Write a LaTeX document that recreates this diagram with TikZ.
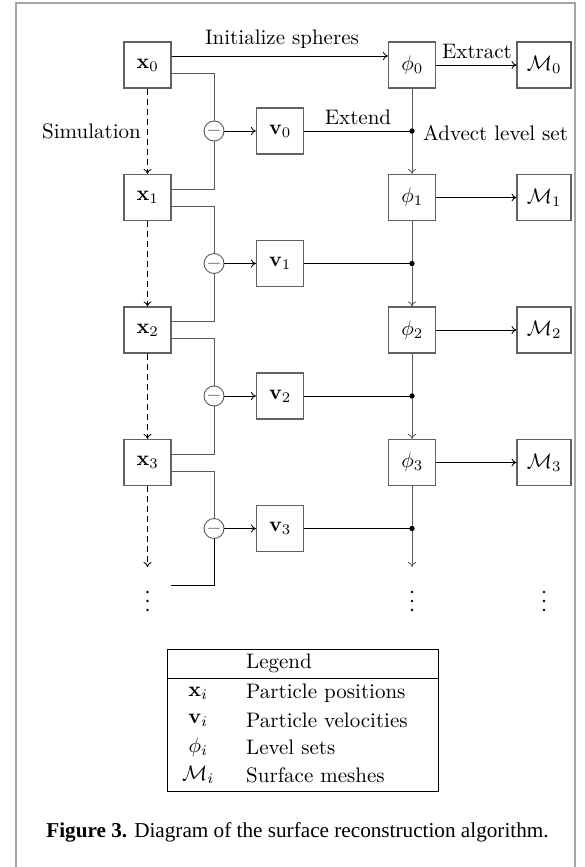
\RequirePackage{fix-cm}
\documentclass[tikz,border=0pt]{standalone}
\usepackage{fontspec}
\setmainfont{lmroman10-regular.otf}[BoldFont=lmroman10-bold.otf, ItalicFont=lmroman10-italic.otf, BoldItalicFont=lmroman10-bolditalic.otf]
\newfontfamily\capfont{Liberation Serif}
\DeclareFontShape{OT1}{cmr}{m}{n}{<-16>cmr7 <16->cmr10}{}
\DeclareFontShape{OT1}{cmr}{bx}{n}{<->cmbx10}{}
\DeclareFontShape{OML}{cmm}{m}{it}{<-16>cmmi7 <16->cmmi10}{\skewchar\font127}
\DeclareFontShape{OMS}{cmsy}{m}{n}{<-16>cmsy7 <16->cmsy10}{\skewchar\font48}
\usetikzlibrary{arrows.meta}
\begin{document}
\begin{tikzpicture}[x=1pt,y=-1pt,
  every node/.style={font=\fontsize{21}{25}\selectfont},
  box/.style={draw=black!62, line width=1.1pt, minimum width=47pt, minimum height=46pt, inner sep=0pt},
  mbox/.style={box, minimum width=54pt},
  subnode/.style={circle, draw=black!65, line width=0.9pt, minimum size=20pt, inner sep=0pt, fill=white, text=black!70},
  lbl/.style={inner sep=0pt},
  conn/.style={line width=0.85pt, draw=black!65},
  blk/.style={line width=0.85pt, draw=black},
  arr/.style={line width=0.85pt, draw=black, -{To[length=5pt,width=8pt]}},
  garr/.style={line width=0.85pt, draw=black!65, -{To[length=5pt,width=8pt]}},
  darr/.style={arr, dash pattern=on 6pt off 4pt},
  dotfill/.style={fill=black}
]
\useasboundingbox (0,0) rectangle (584,867);
% frame
\draw[line width=1.2pt, black!35] (16,867) -- (16,3) -- (575,3) -- (575,867);

% boxes
\node[box] (x0) at (147.5,65) {$\mathbf{x}_0$};
\node[box] (x1) at (147.5,197.5) {$\mathbf{x}_1$};
\node[box] (x2) at (147.5,330) {$\mathbf{x}_2$};
\node[box] (x3) at (147.5,462.5) {$\mathbf{x}_3$};
\node[box] (v0) at (280,131) {$\mathbf{v}_0$};
\node[box] (v1) at (280,263.5) {$\mathbf{v}_1$};
\node[box] (v2) at (280,396) {$\mathbf{v}_2$};
\node[box] (v3) at (280,528.5) {$\mathbf{v}_3$};
\node[box] (p0) at (412,65) {$\phi_0$};
\node[box] (p1) at (412,197.5) {$\phi_1$};
\node[box] (p2) at (412,330) {$\phi_2$};
\node[box] (p3) at (412,462.5) {$\phi_3$};
\node[mbox] (M0) at (544,65) {$\mathcal{M}_0$};
\node[mbox] (M1) at (544,197.5) {$\mathcal{M}_1$};
\node[mbox] (M2) at (544,330) {$\mathcal{M}_2$};
\node[mbox] (M3) at (544,462.5) {$\mathcal{M}_3$};

% difference nodes
\node[subnode] (s0) at (214,131) {\fontsize{19}{19}\selectfont$-$};
\node[subnode] (s1) at (214,263.5) {\fontsize{19}{19}\selectfont$-$};
\node[subnode] (s2) at (214,396) {\fontsize{19}{19}\selectfont$-$};
\node[subnode] (s3) at (214,528.5) {\fontsize{19}{19}\selectfont$-$};

% junctions
\coordinate (d0) at (412,131);
\coordinate (d1) at (412,263.5);
\coordinate (d2) at (412,396);
\coordinate (d3) at (412,528.5);

% ellipses (vertical dots)
\foreach \cx/\nm in {147.5/ex, 412/ep, 544/em}{
  \foreach \cy in {592,601,610} \fill[dotfill] (\cx,\cy) circle (1.4pt);
  \coordinate (\nm) at (\cx,601);
}
\coordinate (xend) at (147.5,567);
\coordinate (pend) at (412,567);
\coordinate (xe) at (171,585);

% x0 -> phi0
\coordinate (x0u) at ([yshift=9pt]x0.east);
\draw[arr] (x0u) -- (x0u -| p0.west);

% x -> difference
\draw[conn] ([yshift=-8.5pt]x0.east) -| (s0.north);
\draw[conn] ([yshift=8.5pt]x1.east) -| (s0.south);
\draw[conn] ([yshift=-8.5pt]x1.east) -| (s1.north);
\draw[conn] ([yshift=8.5pt]x2.east) -| (s1.south);
\draw[conn] ([yshift=-8.5pt]x2.east) -| (s2.north);
\draw[conn] ([yshift=8.5pt]x3.east) -| (s2.south);
\draw[conn] ([yshift=-8.5pt]x3.east) -| (s3.north);
\draw[blk] (xe) -| (s3.south);

% difference -> v
\draw[arr] (s0) -- (v0);
\draw[arr] (s1) -- (v1);
\draw[arr] (s2) -- (v2);
\draw[arr] (s3) -- (v3);

% v -> junction
\draw[blk] (v0) -- (d0);
\draw[blk] (v1) -- (d1);
\draw[blk] (v2) -- (d2);
\draw[blk] (v3) -- (d3);

% phi chain
\draw[garr] (p0) -- (p1);
\draw[garr] (p1) -- (p2);
\draw[garr] (p2) -- (p3);
\draw[garr] (p3) -- (pend);
\foreach \d in {d0,d1,d2,d3} \fill[dotfill] (\d) circle (2.7pt);

% phi -> M
\draw[arr] (p0) -- (M0);
\draw[arr] (p1) -- (M1);
\draw[arr] (p2) -- (M2);
\draw[arr] (p3) -- (M3);

% simulation
\draw[darr] (x0) -- (x1);
\draw[darr] (x1) -- (x2);
\draw[darr] (x2) -- (x3);
\draw[darr] (x3) -- (xend);

% labels
\node[lbl] (linit) at (282,39) {Initialize spheres};
\node[lbl] (lextr) at (477,51) {Extract};
\node[lbl] (lextd) at (358,117) {Extend};
\node[lbl, anchor=west] (ladv) at (423,133) {Advect level set};
\node[lbl, anchor=east] (lsim) at (141,131) {Simulation};

% legend
\draw[line width=1pt] (167,649) rectangle (438,791);
\draw[line width=1pt] (167,678) -- (438,678);
\node[lbl, anchor=west] (lg) at (246,663) {Legend};
\node[lbl] (lgx) at (198,693) {$\mathbf{x}_i$};
\node[lbl] (lgv) at (198,720) {$\mathbf{v}_i$};
\node[lbl] (lgp) at (198,747) {$\phi_i$};
\node[lbl] (lgm) at (198,775) {$\mathcal{M}_i$};
\node[lbl, anchor=west] (lgxt) at (246,693) {Particle positions};
\node[lbl, anchor=west] (lgvt) at (246,720) {Particle velocities};
\node[lbl, anchor=west] (lgpt) at (246,747) {Level sets};
\node[lbl, anchor=west] (lgmt) at (246,775) {Surface meshes};

% caption
\node[lbl, anchor=base, font=\capfont\fontsize{21.2}{25}\selectfont] (cap) at (297.5,837) {\textbf{Figure 3.} Diagram of the surface reconstruction algorithm.};
\end{tikzpicture}
\end{document}
